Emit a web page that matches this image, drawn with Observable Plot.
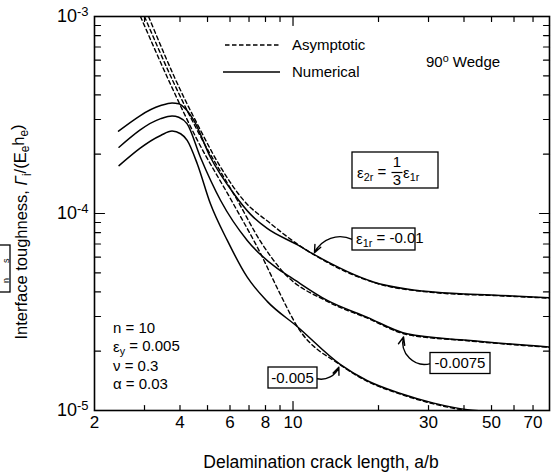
<!DOCTYPE html>
<html><head><meta charset="utf-8">
<script src="https://cdn.jsdelivr.net/npm/d3@7"></script>
<script src="https://cdn.jsdelivr.net/npm/@observablehq/plot@0.6"></script>
<style>
body{margin:0;background:#fff;}
#chart{width:551px;height:474px;}
svg{font-family:"Liberation Sans",Arial,sans-serif;}
</style></head><body><div id="chart"></div>
<script>
// ---- axis ticks ----
const xTickLabels = [2, 4, 6, 8, 10, 30, 50, 70];
const xMinorTicks = [3, 4, 5, 6, 7, 8, 9, 20, 30, 40, 50, 60, 70];
const xMajorTicks = [10];
const yMajorTicks = [1e-5, 1e-4, 1e-3];
const yMinorTicks = [2e-5,3e-5,4e-5,5e-5,6e-5,7e-5,8e-5,9e-5,2e-4,3e-4,4e-4,5e-4,6e-4,7e-4,8e-4,9e-4];

// ---- numerical (solid) curves ----
const numX_010 = [2.43, 3.42, 3.75, 3.96, 4.22, 4.48, 5.12, 6.19, 7.09, 8.11, 10.34, 11.84, 19.3, 31.3, 53.8, 80];
const numY_010 = [2.62e-4, 3.53e-4, 3.64e-4, 3.61e-4, 3.35e-4, 2.96e-4, 1.93e-4, 1.26e-4, 9.9e-5, 8.4e-5, 6.95e-5, 6.2e-5, 4.48e-5, 3.99e-5, 3.84e-5, 3.73e-5];
const numX_0075 = [2.44, 3.42, 3.75, 3.96, 4.24, 4.72, 5.56, 6.90, 8.80, 9.80, 13.2, 18.2, 25.2, 41.1, 80];
const numY_0075 = [2.17e-4, 3.03e-4, 3.13e-4, 3.08e-4, 2.85e-4, 1.93e-4, 1.164e-4, 7.3e-5, 5.26e-5, 4.75e-5, 3.62e-5, 2.98e-5, 2.45e-5, 2.27e-5, 2.10e-5];
const numX_005 = [2.44, 3.42, 3.75, 4.02, 4.24, 4.60, 5.12, 5.87, 6.90, 8.11, 10.34, 14.7, 18.2, 23.9, 31.3, 41.1, 48.4];
const numY_005 = [1.75e-4, 2.49e-4, 2.62e-4, 2.54e-4, 2.35e-4, 1.79e-4, 1.12e-4, 7.3e-5, 4.75e-5, 3.58e-5, 2.67e-5, 1.71e-5, 1.42e-5, 1.22e-5, 1.09e-5, 1.01e-5, 0.99e-5];

// ---- asymptotic (dashed) curves ----
const asyX_010 = [3.10, 4.02, 4.60, 5.56, 6.71, 8.33, 10.35, 11.84, 19.3, 31.3, 53.8, 80];
const asyY_010 = [1e-3, 4.21e-4, 2.85e-4, 1.718e-4, 1.164e-4, 8.9e-5, 7.0e-5, 6.18e-5, 4.46e-5, 3.97e-5, 3.82e-5, 3.72e-5];
const asyX_0075 = [3.0, 3.857, 4.724, 6.377, 7.685, 9.26, 13.2, 18.2, 25.2, 41.1, 80];
const asyY_0075 = [1e-3, 4.41e-4, 2.46e-4, 1.164e-4, 7.21e-5, 5.02e-5, 3.58e-5, 2.95e-5, 2.43e-5, 2.26e-5, 2.09e-5];
const asyX_005 = [2.904, 3.735, 4.574, 6.073, 7.685, 8.89, 10.35, 14.7, 18.2, 23.9, 31.3, 41.1, 48.4];
const asyY_005 = [1e-3, 4.41e-4, 2.40e-4, 1.164e-4, 6.27e-5, 4.06e-5, 2.67e-5, 1.70e-5, 1.41e-5, 1.21e-5, 1.08e-5, 1.0e-5, 0.98e-5];

const rows = (xs, ys) => xs.map((x, i) => ({x, y: ys[i]}));
const solids = [rows(numX_010, numY_010), rows(numX_0075, numY_0075), rows(numX_005, numY_005)];
const dashes = [rows(asyX_010, asyY_010), rows(asyX_0075, asyY_0075), rows(asyX_005, asyY_005)];

const tickShape = {draw(ctx, l) { ctx.moveTo(0, 0); ctx.lineTo(0, -l); }};
const vt = (data, anchor, rot, len) => Plot.vector(data, {
  [anchor === "top" || anchor === "bottom" ? "x" : "y"]: d => d,
  frameAnchor: anchor, rotate: rot, length: len, anchor: "start", shape: tickShape, strokeWidth: 1.2, stroke: "black"
});

const lineMarks = [];
for (const s of solids) lineMarks.push(Plot.line(s, {x: "x", y: "y", curve: "monotone-x", stroke: "black", strokeWidth: 1.5, clip: true}));
for (const s of dashes) lineMarks.push(Plot.line(s, {x: "x", y: "y", curve: "monotone-x", stroke: "black", strokeWidth: 1.4, strokeDasharray: "4,3", clip: true}));

const arrowOpts = {stroke: "black", strokeWidth: 1.4, headLength: 9, headAngle: 45};
const chart = Plot.plot({
  width: 551, height: 474,
  marginLeft: 94, marginRight: 2, marginTop: 16, marginBottom: 64,
  style: {fontFamily: "Liberation Sans, Arial, sans-serif", fontSize: "17px", background: "white", color: "black"},
  x: {type: "log", domain: [2, 80], label: null, axis: null},
  y: {type: "log", domain: [1e-5, 1e-3], label: null},
  marks: [
    Plot.frame({stroke: "black", strokeWidth: 1.6}),
    Plot.text(xTickLabels, {x: d => d, frameAnchor: "bottom", dy: 12, text: d => String(d), fontSize: 17, textAnchor: "middle", lineAnchor: "middle"}),
    Plot.axisY(yMajorTicks, {anchor: "left", tickSize: 0, tickPadding: 6, tickFormat: d => String(Math.round(Math.log10(d))), fontSize: 18}),
    vt(xMinorTicks, "bottom", 0, 5), vt(xMajorTicks, "bottom", 0, 9),
    vt(xMinorTicks, "top", 180, 5), vt(xMajorTicks, "top", 180, 9),
    vt(yMinorTicks, "left", 90, 6), vt(yMajorTicks, "left", 90, 10),
    vt(yMinorTicks, "right", -90, 6), vt(yMajorTicks, "right", -90, 10),
    ...lineMarks,
    Plot.arrow([0], {x1: 16.16, y1: 7.38e-5, x2: 11.9, y2: 6.32e-5, bend: -45, ...arrowOpts}),
    Plot.arrow([0], {x1: 30.5, y1: 1.73e-5, x2: 24.5, y2: 2.36e-5, bend: 60, ...arrowOpts}),
    Plot.arrow([0], {x1: 12.17, y1: 1.449e-5, x2: 14.5, y2: 1.66e-5, bend: -40, ...arrowOpts})
  ]
});
document.getElementById("chart").appendChild(chart);

const svg = d3.select(chart);

// y tick labels as 10^n with superscripts
svg.selectAll('g[aria-label="y-axis tick label"] text').each(function() {
  const t = d3.select(this); const e = t.text();
  t.text("10");
  t.append("tspan").attr("dy", "-0.45em").attr("font-size", "13px").text(e);
});

function addText(x, y, parts, opts = {}) {
  const t = svg.append("text").attr("x", x).attr("y", y)
    .attr("font-size", opts.size || 15).attr("text-anchor", opts.anchor || "start").attr("fill", "black");
  if (opts.transform) t.attr("transform", opts.transform);
  for (const p of parts) {
    const s = t.append("tspan").text(p.t);
    if (p.sub) s.attr("font-size", "0.72em").attr("dy", "0.3em");
    if (p.sup) s.attr("font-size", "0.72em").attr("dy", "-0.5em");
    if (p.back) s.attr("dy", p.back);
    if (p.italic) s.attr("font-style", "italic");
  }
  return t;
}

// axis titles
addText(321, 468, [{t: "Delamination crack length, a/b"}], {size: 17.5, anchor: "middle"});
addText(0, 0, [{t: "Interface toughness, "}, {t: "Γ", italic: true}, {t: "i", sub: true}, {t: "/(E", back: "-0.3em"}, {t: "e", sub: true}, {t: "h", back: "-0.3em"}, {t: "e", sub: true}, {t: ")", back: "-0.3em"}],
  {size: 16.5, anchor: "middle", transform: "translate(27,232) rotate(-90)"});

// legend
svg.append("line").attr("x1", 225).attr("x2", 280).attr("y1", 45).attr("y2", 45).attr("stroke", "black").attr("stroke-width", 1.4).attr("stroke-dasharray", "4.5,2.5");
svg.append("line").attr("x1", 223).attr("x2", 280).attr("y1", 72).attr("y2", 72).attr("stroke", "black").attr("stroke-width", 1.4);
addText(292, 50, [{t: "Asymptotic"}]);
addText(292, 77, [{t: "Numerical"}]);
addText(426, 67, [{t: "90"}, {t: "o", sup: true}, {t: " Wedge", back: "0.36em"}]);

// parameters
addText(113, 333, [{t: "n = 10"}]);
addText(113, 352, [{t: "ε"}, {t: "y", sub: true}, {t: " = 0.005", back: "-0.3em"}]);
addText(113, 371, [{t: "ν = 0.3"}]);
addText(113, 389, [{t: "α = 0.03"}]);

// boxes
function box(x0, y0, x1, y1) {
  svg.append("rect").attr("x", x0).attr("y", y0).attr("width", x1 - x0).attr("height", y1 - y0)
    .attr("fill", "white").attr("stroke", "black").attr("stroke-width", 1.3);
}
box(352, 152, 438, 188);
addText(357, 178, [{t: "ε"}, {t: "2r", sub: true}, {t: " =", back: "-0.3em"}]);
addText(397, 167, [{t: "1"}], {anchor: "middle"});
svg.append("line").attr("x1", 391.5).attr("x2", 402.5).attr("y1", 172.5).attr("y2", 172.5).attr("stroke", "black").attr("stroke-width", 1.2);
addText(397, 185, [{t: "3"}], {anchor: "middle"});
addText(403, 178, [{t: "ε"}, {t: "1r", sub: true}]);

box(352, 228, 415, 250);
addText(356, 244, [{t: "ε"}, {t: "1r", sub: true}, {t: " = -0.01", back: "-0.3em"}]);
box(430, 352.5, 490, 373.5);
addText(460, 368, [{t: "-0.0075"}], {anchor: "middle"});
box(268, 367, 317, 388);
addText(292.5, 383, [{t: "-0.005"}], {anchor: "middle"});

// cropped fragment at left edge
box(-20, 245, 10, 292);
addText(0, 0, [{t: "s"}], {size: 9, transform: "translate(9,263) rotate(-90)"});
addText(0, 0, [{t: "n"}], {size: 9, transform: "translate(9,283) rotate(-90)"});
</script></body></html>
